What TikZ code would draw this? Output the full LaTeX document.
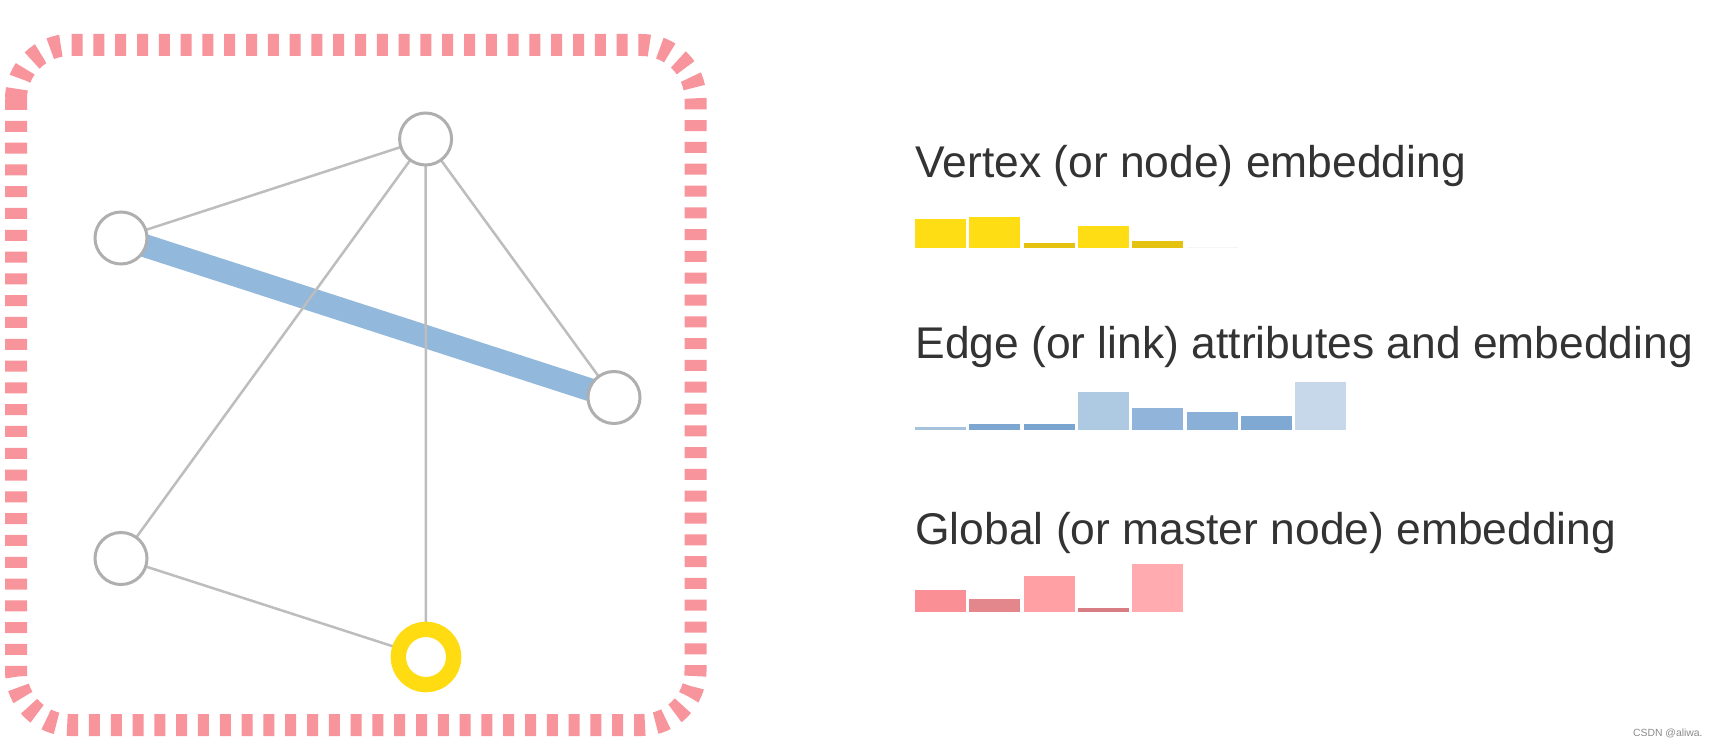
\documentclass[tikz,border=0pt]{standalone}
\usepackage{fontspec}
\setmainfont{Liberation Sans}
\pgfdeclarelayer{backdrop}
\pgfdeclarelayer{background}
\pgfsetlayers{backdrop,background,main}
\definecolor{boxpink}{HTML}{F8949B}
\definecolor{edgegray}{HTML}{BDBDBD}
\definecolor{nodegray}{HTML}{AFAFAF}
\definecolor{edgeblue}{HTML}{92B8DC}
\definecolor{ringyellow}{HTML}{FFDC12}
\definecolor{txt}{HTML}{333333}
\definecolor{wm}{HTML}{8C8C8C}
\definecolor{yA}{HTML}{FFDD15}
\definecolor{yB}{HTML}{E5C210}
\definecolor{bA}{HTML}{A6C2DD}
\definecolor{bB}{HTML}{7DA7D1}
\definecolor{bC}{HTML}{7AA5D0}
\definecolor{bD}{HTML}{AECAE3}
\definecolor{bE}{HTML}{91B4DA}
\definecolor{bF}{HTML}{8BB0D7}
\definecolor{bG}{HTML}{7FA9D3}
\definecolor{bH}{HTML}{C6D8EA}
\definecolor{pA}{HTML}{FA9096}
\definecolor{pB}{HTML}{E3878D}
\definecolor{pC}{HTML}{FFA0A5}
\definecolor{pD}{HTML}{D97D85}
\definecolor{pE}{HTML}{FFABB0}
\tikzset{
  vert/.style={circle, draw=nodegray, line width=1.5pt, fill=white, minimum size=26pt, inner sep=0pt},
  ring/.style={circle, draw=ringyellow, line width=7.65pt, fill=white, minimum size=27.7pt, inner sep=0pt},
  thin edge/.style={draw=edgegray, line width=1.25pt},
  thick edge/.style={draw=edgeblue, line width=11.5pt},
  boxdash/.style={draw=boxpink, line width=11pt, dash pattern=on 5.5pt off 5.4pt, rounded corners=27pt},
  label text/.style={anchor=base west, inner sep=0pt, text=txt, font=\fontsize{22.2}{26}\selectfont}
}
\begin{document}
\begin{tikzpicture}[x=0.5pt,y=-0.5pt]
\useasboundingbox (0,0) rectangle (1720,748);
\begin{pgfonlayer}{backdrop}
\fill[white] (0,0) rectangle (1720,748);
\end{pgfonlayer}

% dashed frame
\draw[boxdash] (16,45) rectangle (695.5,725);

% vertices
\node[vert] (top) at (425.6,139) {};
\node[vert] (left) at (121,238) {};
\node[vert] (right) at (614,397.5) {};
\node[vert] (bl) at (121,558.5) {};
\node[ring] (yel) at (426,657) {};

\begin{pgfonlayer}{background}
\draw[thick edge] (left.center) -- (right.center);
\draw[thin edge] (left.center) -- (top.center);
\draw[thin edge] (top.center) -- (right.center);
\draw[thin edge] (top.center) -- (bl.center);
\draw[thin edge] (top.center) -- (yel.center);
\draw[thin edge] (bl.center) -- (yel.center);
\end{pgfonlayer}

% labels
\node[label text] (lv) at (915,177.7) {Vertex (or node) embedding};
\node[label text] (le) at (915,358.3) {Edge (or link) attributes and embedding};
\node[label text] (lg) at (915,544.5) {Global (or master node) embedding};

% vertex bars (bottom 247.7)
\fill[yA] (915,247.7) rectangle ++(51,-28.7);
\fill[yA] (969.3,247.7) rectangle ++(51,-31);
\fill[yB] (1023.6,247.7) rectangle ++(51,-5);
\fill[yA] (1077.9,247.7) rectangle ++(51,-21.7);
\fill[yB] (1132.2,247.7) rectangle ++(51,-7);
\fill[black!4] (1186.5,247.7) rectangle ++(51,-1);

% edge bars (bottom 430)
\fill[bA] (915,430) rectangle ++(51,-2.5);
\fill[bB] (969.3,430) rectangle ++(51,-6);
\fill[bC] (1023.6,430) rectangle ++(51,-6.3);
\fill[bD] (1077.9,430) rectangle ++(51,-38);
\fill[bE] (1132.2,430) rectangle ++(51,-22);
\fill[bF] (1186.5,430) rectangle ++(51,-17.7);
\fill[bG] (1240.8,430) rectangle ++(51,-13.7);
\fill[bH] (1295.1,430) rectangle ++(51,-47.7);

% global bars (bottom 612.3)
\fill[pA] (915,612.3) rectangle ++(51,-22.6);
\fill[pB] (969.3,612.3) rectangle ++(51,-13);
\fill[pC] (1023.6,612.3) rectangle ++(51,-36.3);
\fill[pD] (1077.9,612.3) rectangle ++(51,-4.6);
\fill[pE] (1132.2,612.3) rectangle ++(51,-48);

% watermark
\node[anchor=base east, inner sep=0pt, text=wm, font=\fontsize{5.2}{6}\selectfont] (wmk) at (1703,736.7) {CSDN @aliwa.};
\end{tikzpicture}
\end{document}
